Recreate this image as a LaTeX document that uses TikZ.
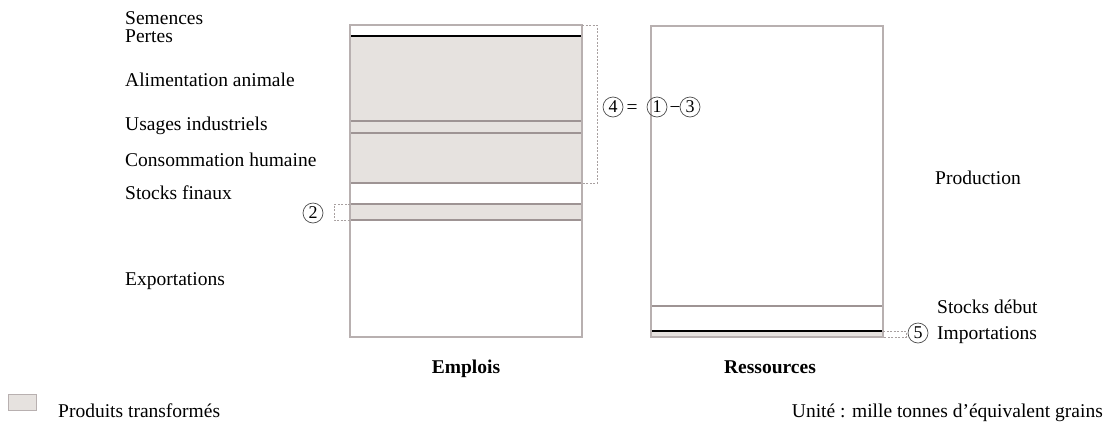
\documentclass[tikz,border=0pt]{standalone}
\usepackage{fontspec}
\setmainfont{Liberation Serif}
\definecolor{fillg}{HTML}{E6E2DF}
\definecolor{edgeg}{HTML}{B8B0B0}
\definecolor{midl}{HTML}{9E9494}
\definecolor{dashg}{HTML}{A8A0A0}
\begin{document}
\begin{tikzpicture}[x=1pt,y=-1pt,
  every node/.style={font=\fontsize{19.5}{23}\selectfont, inner sep=0pt},
  lbl/.style={anchor=base west},
  ttl/.style={anchor=base, font=\fontsize{19.5}{23}\selectfont\bfseries},
  circ/.style={circle, draw=black!70, line width=0.7pt, minimum size=20pt, inner sep=0pt, font=\fontsize{18}{20}\selectfont},
  op/.style={anchor=base},
  band/.style={fill=fillg},
  sep/.style={draw=midl, line width=1.2pt},
  thick sep/.style={draw=black, line width=1.8pt},
  frame/.style={draw=edgeg, line width=1.2pt},
  dsh/.style={draw=dashg, dashed, dash pattern=on 2pt off 1.5pt, line width=0.8pt}]
\useasboundingbox (0,0) rectangle (1111,421);

% ---------- Emplois bar ----------
\fill[band] (350,36) rectangle (582,183);
\fill[band] (350,204) rectangle (582,220);
\draw[sep] (350,121) -- (582,121);
\draw[sep] (350,133) -- (582,133);
\draw[sep] (350,183) -- (582,183);
\draw[sep] (350,204) -- (582,204);
\draw[sep] (350,220) -- (582,220);
\draw[thick sep] (350,36) -- (582,36);
\draw[frame] (350,25) rectangle (582,337);

% ---------- Ressources bar ----------
\fill[band] (651,331) rectangle (883,337);
\draw[sep] (651,306) -- (883,306);
\draw[thick sep] (651,331) -- (883,331);
\draw[frame] (651,26) rectangle (883,337);

% ---------- dashed markers ----------
\draw[dsh] (582,25) -- (597,25) -- (597,183) -- (582,183);
\draw[dsh] (350,204) -- (334,204) -- (334,220) -- (350,220);
\draw[dsh] (883,331) -- (906,331) -- (906,337) -- (883,337);

% ---------- left labels ----------
\node[lbl] (sem) at (125,24) {Semences};
\node[lbl] (per) at (125,42) {Pertes};
\node[lbl] (ali) at (125,86) {Alimentation animale};
\node[lbl] (usa) at (125,130) {Usages industriels};
\node[lbl] (con) at (125,166) {Consommation humaine};
\node[lbl] (sto) at (125,199) {Stocks finaux};
\node[lbl] (exp) at (125,285) {Exportations};

% ---------- right labels ----------
\node[lbl] (pro) at (935,184) {Production};
\node[lbl] (deb) at (937,313) {Stocks début};
\node[lbl] (imp) at (937,339) {Importations};

% ---------- circled numbers ----------
\node[circ] (c2) at (313,213) {2};
\node[circ] (c4) at (613,107) {4};
\node[op] (eq) at (632,113) {=};
\node[circ] (c1) at (657,107) {1};
\node[op] (mi) at (675,113) {−};
\node[circ] (c3) at (690,107) {3};
\node[circ] (c5) at (918,333) {5};

% ---------- titles ----------
\node[ttl] (emp) at (466,373) {Emplois};
\node[ttl] (res) at (770,373) {Ressources};

% ---------- legend ----------
\node[draw=edgeg, fill=fillg, line width=0.8pt, minimum width=28pt, minimum height=16pt, anchor=north west] (leg) at (8,394) {};
\node[lbl] (legt) at (58,417) {Produits transformés};
\node[anchor=base east] (unit) at (1103,417) {Unité : mille tonnes d’équivalent grains};
\end{tikzpicture}
\end{document}
